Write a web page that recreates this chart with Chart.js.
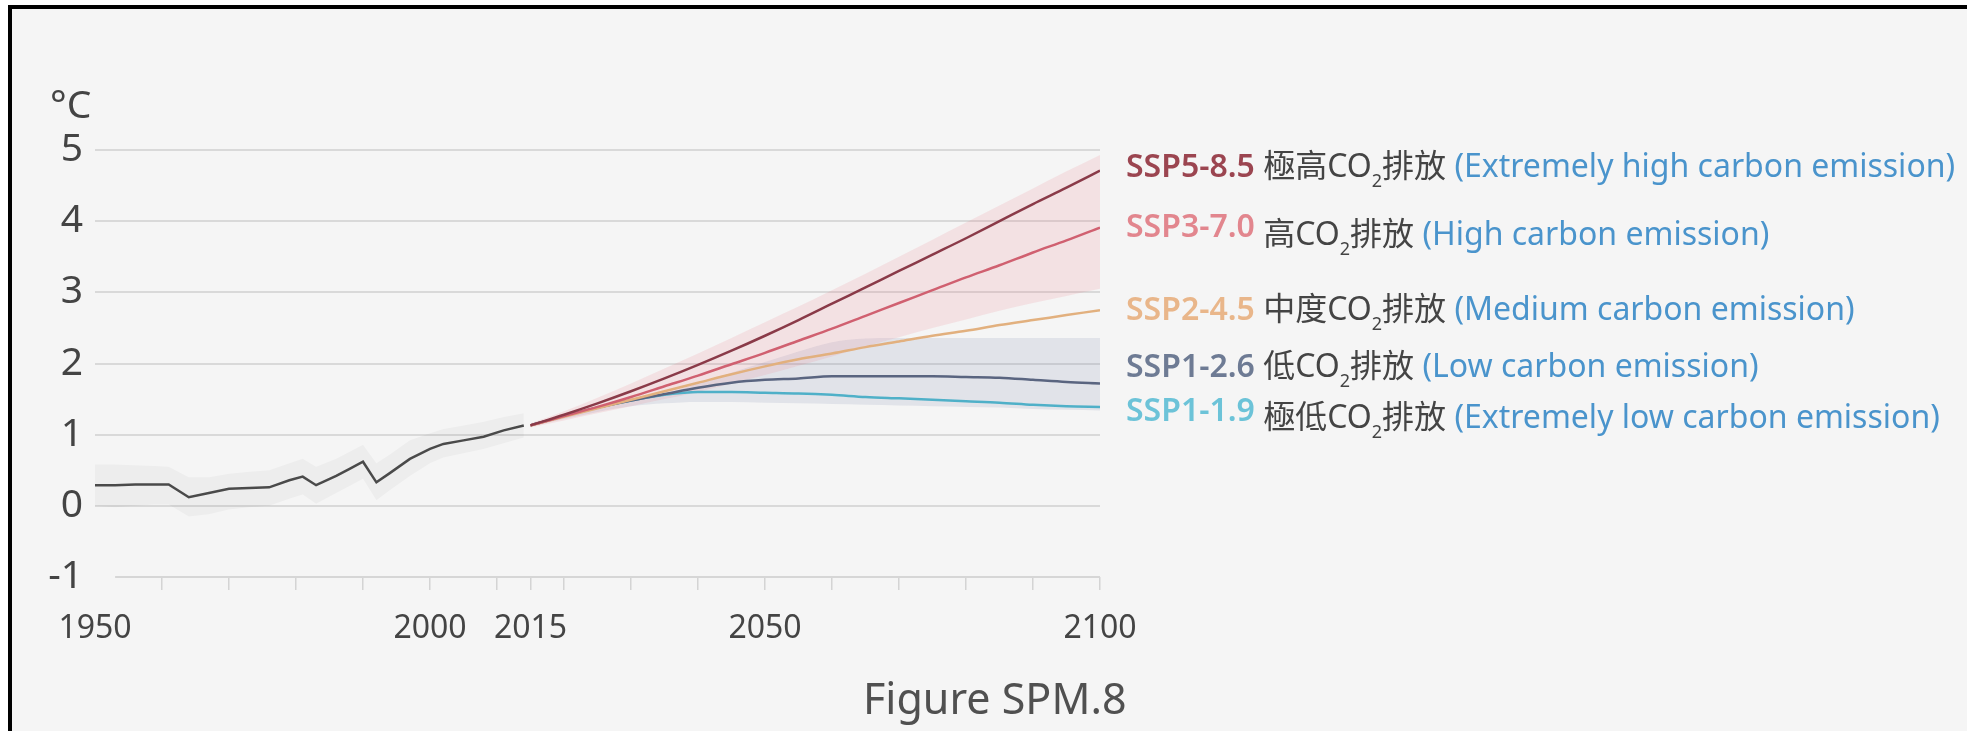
<!DOCTYPE html>
<html>
<head>
<meta charset="utf-8">
<title>Figure SPM.8</title>
<script src="https://cdn.jsdelivr.net/npm/chart.js"></script>
<style>
  html, body { margin: 0; padding: 0; background: #fff; }
  body { width: 1967px; height: 731px; overflow: hidden; position: relative;
         font-family: "Noto Sans", "Noto Sans CJK TC", sans-serif; color: #444; }
  #frame { position: absolute; left: 8px; top: 5px; right: 0; bottom: 0; background: #f5f5f5;
           border-top: 4px solid #000; border-left: 4px solid #000; }
  #myChart { position: absolute; left: 0; top: 0; }
  .unit { position: absolute; left: 50px; top: 83px; font-size: 39px; line-height: 39px; }
  .lbl { position: absolute; left: 1126px; font-size: 32px; line-height: 32px; white-space: nowrap; color: #444; }
  .lbl .ssp { font-weight: 600; position: relative; }
  .lbl .en { color: #4a94cc; }
  .lbl sub { font-size: 18px; line-height: 0; vertical-align: -10px; }
  #title { position: absolute; left: 863px; top: 676px; font-size: 43px; line-height: 43px; color: #505050; white-space: nowrap; }
</style>
</head>
<body>
<div id="frame"></div>
<canvas id="myChart" width="1967" height="731"></canvas>

<div class="unit">°C</div>

<div class="lbl" style="top:149px"><span class="ssp" style="color:#9b4550">SSP5-8.5</span> 極高CO<sub>2</sub>排放 <span class="en">(Extremely high carbon emission)</span></div>
<div class="lbl" style="top:217px"><span class="ssp" style="color:#e2868e;top:-8px">SSP3-7.0</span> 高CO<sub>2</sub>排放 <span class="en">(High carbon emission)</span></div>
<div class="lbl" style="top:292px"><span class="ssp" style="color:#e9b68a">SSP2-4.5</span> 中度CO<sub>2</sub>排放 <span class="en">(Medium carbon emission)</span></div>
<div class="lbl" style="top:349px"><span class="ssp" style="color:#6e7b94">SSP1-2.6</span> 低CO<sub>2</sub>排放 <span class="en">(Low carbon emission)</span></div>
<div class="lbl" style="top:400px"><span class="ssp" style="color:#6cc3d8;top:-7px">SSP1-1.9</span> 極低CO<sub>2</sub>排放 <span class="en">(Extremely low carbon emission)</span></div>

<div id="title">Figure SPM.8</div>

<script>
// historical simulation 1950-2014 (°C, relative to 1850-1900)
var histYears = [1950, 1953, 1956, 1959, 1961, 1964, 1967, 1970, 1973, 1976, 1979, 1981, 1983, 1986, 1988, 1990, 1992, 1994, 1997, 2000, 2002, 2005, 2008, 2011, 2014];
var histMean  = [0.29, 0.29, 0.30, 0.30, 0.30, 0.12, 0.18, 0.24, 0.25, 0.26, 0.36, 0.41, 0.29, 0.42, 0.52, 0.62, 0.33, 0.46, 0.66, 0.80, 0.87, 0.92, 0.97, 1.06, 1.13];
var histHigh  = [0.58, 0.58, 0.57, 0.56, 0.55, 0.40, 0.40, 0.45, 0.48, 0.50, 0.60, 0.66, 0.55, 0.66, 0.76, 0.86, 0.60, 0.72, 0.92, 1.02, 1.08, 1.13, 1.18, 1.25, 1.30];
var histLow   = [0.00, -0.02, 0.00, 0.02, 0.02, -0.15, -0.12, -0.05, -0.02, 0.00, 0.10, 0.16, 0.03, 0.18, 0.28, 0.38, 0.08, 0.22, 0.42, 0.60, 0.68, 0.74, 0.80, 0.88, 0.96];

// scenario projections 2015-2100
var projYears = [2015, 2020, 2025, 2030, 2035, 2040, 2045, 2050, 2055, 2060, 2065, 2070, 2075, 2080, 2085, 2090, 2095, 2100];
var ssp585 = [1.13, 1.28, 1.44, 1.61, 1.79, 1.98, 2.18, 2.39, 2.61, 2.84, 3.07, 3.30, 3.53, 3.76, 4.00, 4.24, 4.47, 4.71];
var ssp370 = [1.13, 1.26, 1.39, 1.53, 1.68, 1.83, 1.99, 2.15, 2.32, 2.49, 2.67, 2.85, 3.03, 3.21, 3.38, 3.56, 3.73, 3.91];
var ssp245 = [1.13, 1.25, 1.37, 1.49, 1.61, 1.73, 1.85, 1.96, 2.06, 2.14, 2.23, 2.31, 2.39, 2.46, 2.54, 2.61, 2.68, 2.75];
var ssp126 = [1.13, 1.26, 1.38, 1.48, 1.57, 1.66, 1.73, 1.77, 1.79, 1.82, 1.82, 1.82, 1.82, 1.81, 1.80, 1.77, 1.74, 1.72];
var ssp119 = [1.13, 1.26, 1.38, 1.48, 1.56, 1.60, 1.60, 1.59, 1.58, 1.56, 1.53, 1.51, 1.49, 1.47, 1.45, 1.42, 1.40, 1.39];

// shaded ranges
var ssp370High = [1.16, 1.33, 1.52, 1.72, 1.93, 2.14, 2.36, 2.58, 2.80, 3.03, 3.26, 3.50, 3.74, 3.98, 4.22, 4.46, 4.70, 4.93];
var ssp370Low  = [1.10, 1.20, 1.30, 1.40, 1.50, 1.60, 1.72, 1.84, 1.97, 2.10, 2.24, 2.37, 2.50, 2.62, 2.74, 2.85, 2.95, 3.05];
var ssp126High = [1.15, 1.28, 1.40, 1.50, 1.58, 1.72, 1.87, 2.02, 2.17, 2.30, 2.35, 2.36, 2.36, 2.36, 2.36, 2.36, 2.36, 2.36];
var ssp126Low  = [1.11, 1.22, 1.32, 1.40, 1.44, 1.46, 1.46, 1.45, 1.44, 1.43, 1.42, 1.41, 1.40, 1.39, 1.38, 1.36, 1.35, 1.34];

var xTickYears = [1950, 1960, 1970, 1980, 1990, 2000, 2010, 2015, 2020, 2030, 2040, 2050, 2060, 2070, 2080, 2090, 2100];
var xLabelYears = [1950, 2000, 2015, 2050, 2100];
var yTicks = [-1, 0, 1, 2, 3, 4, 5];
var baselineStart = 1953;

function pts(xs, ys) {
    var out = [];
    for (var i = 0; i < xs.length; i++) {
        out.push({x: xs[i], y: ys[i]});
    }
    return out;
}

function line(label, xs, ys, color, order, smooth) {
    return {
        label: label, data: pts(xs, ys), borderColor: color, borderWidth: 2.5,
        pointRadius: 0, fill: false, order: order,
        cubicInterpolationMode: smooth ? 'monotone' : 'default', tension: 0
    };
}

function edge(xs, ys, fillColor, order, smooth) {
    return {
        data: pts(xs, ys), borderWidth: 0, borderColor: 'transparent', pointRadius: 0,
        fill: fillColor ? '-1' : false, backgroundColor: fillColor || 'transparent',
        cubicInterpolationMode: smooth ? 'monotone' : 'default', tension: 0, order: order
    };
}

// the -1 axis line starts a little after 1950
var baseline = {
    id: 'baseline',
    beforeDatasetsDraw: function (chart) {
        var x = chart.scales.x, y = chart.scales.y, c = chart.ctx;
        var py = y.getPixelForValue(yTicks[0]);
        c.save();
        c.strokeStyle = '#d6d6d6';
        c.lineWidth = 2;
        c.beginPath();
        c.moveTo(x.getPixelForValue(baselineStart), py);
        c.lineTo(x.getPixelForValue(xTickYears[xTickYears.length - 1]), py);
        c.stroke();
        c.restore();
    }
};

var ctx = document.getElementById('myChart');

var chart = new Chart(ctx, {
    type: 'line',
    data: {
        datasets: [
            edge(histYears, histLow, null, 12, false),
            edge(histYears, histHigh, 'rgba(0,0,0,0.03)', 12, false),
            edge(projYears, ssp126Low, null, 11, true),
            edge(projYears, ssp126High, 'rgba(115,125,165,0.15)', 11, true),
            edge(projYears, ssp370Low, null, 10, true),
            edge(projYears, ssp370High, 'rgba(235,115,125,0.15)', 10, true),
            line('SSP1-1.9', projYears, ssp119, '#4fb0c8', 5, true),
            line('SSP1-2.6', projYears, ssp126, '#5a6580', 4, true),
            line('SSP2-4.5', projYears, ssp245, '#e2b07e', 3, true),
            line('SSP3-7.0', projYears, ssp370, '#d06070', 2, true),
            line('SSP5-8.5', projYears, ssp585, '#8a3a48', 1, true),
            line('Historical', histYears, histMean, '#4a4a4a', 6, false)
        ]
    },
    options: {
        responsive: false,
        animation: false,
        layout: { padding: { left: 0, right: 867, top: 150, bottom: 0 } },
        plugins: { legend: { display: false }, tooltip: { enabled: false } },
        scales: {
            x: {
                type: 'linear', min: 1950, max: 2100,
                afterBuildTicks: function (scale) {
                    scale.ticks = xTickYears.map(function (v) { return {value: v}; });
                },
                afterFit: function (scale) { scale.height = 154; },
                border: { display: false },
                grid: {
                    drawOnChartArea: false, drawTicks: true, tickLength: 13, lineWidth: 1.5,
                    color: function (c) { return c.tick && c.tick.value === 1950 ? 'transparent' : '#d4d4d4'; },
                    tickColor: function (c) { return c.tick && c.tick.value === 1950 ? 'transparent' : '#d4d4d4'; }
                },
                ticks: {
                    autoSkip: false, maxRotation: 0, padding: 20, color: '#444',
                    font: { family: 'Noto Sans', size: 32 },
                    callback: function (v) { return xLabelYears.indexOf(v) >= 0 ? String(v) : ''; }
                }
            },
            y: {
                min: yTicks[0], max: yTicks[yTicks.length - 1],
                afterBuildTicks: function (scale) {
                    scale.ticks = yTicks.map(function (v) { return {value: v}; });
                },
                afterFit: function (scale) { scale.width = 95; },
                border: { display: false },
                grid: {
                    drawTicks: false, lineWidth: 2,
                    color: function (c) { return c.tick && c.tick.value === yTicks[0] ? 'transparent' : '#d9d9d9'; }
                },
                ticks: { padding: 12, color: '#444', font: { family: 'Noto Sans', size: 39 } }
            }
        }
    },
    plugins: [baseline]
});
</script>
</body>
</html>
